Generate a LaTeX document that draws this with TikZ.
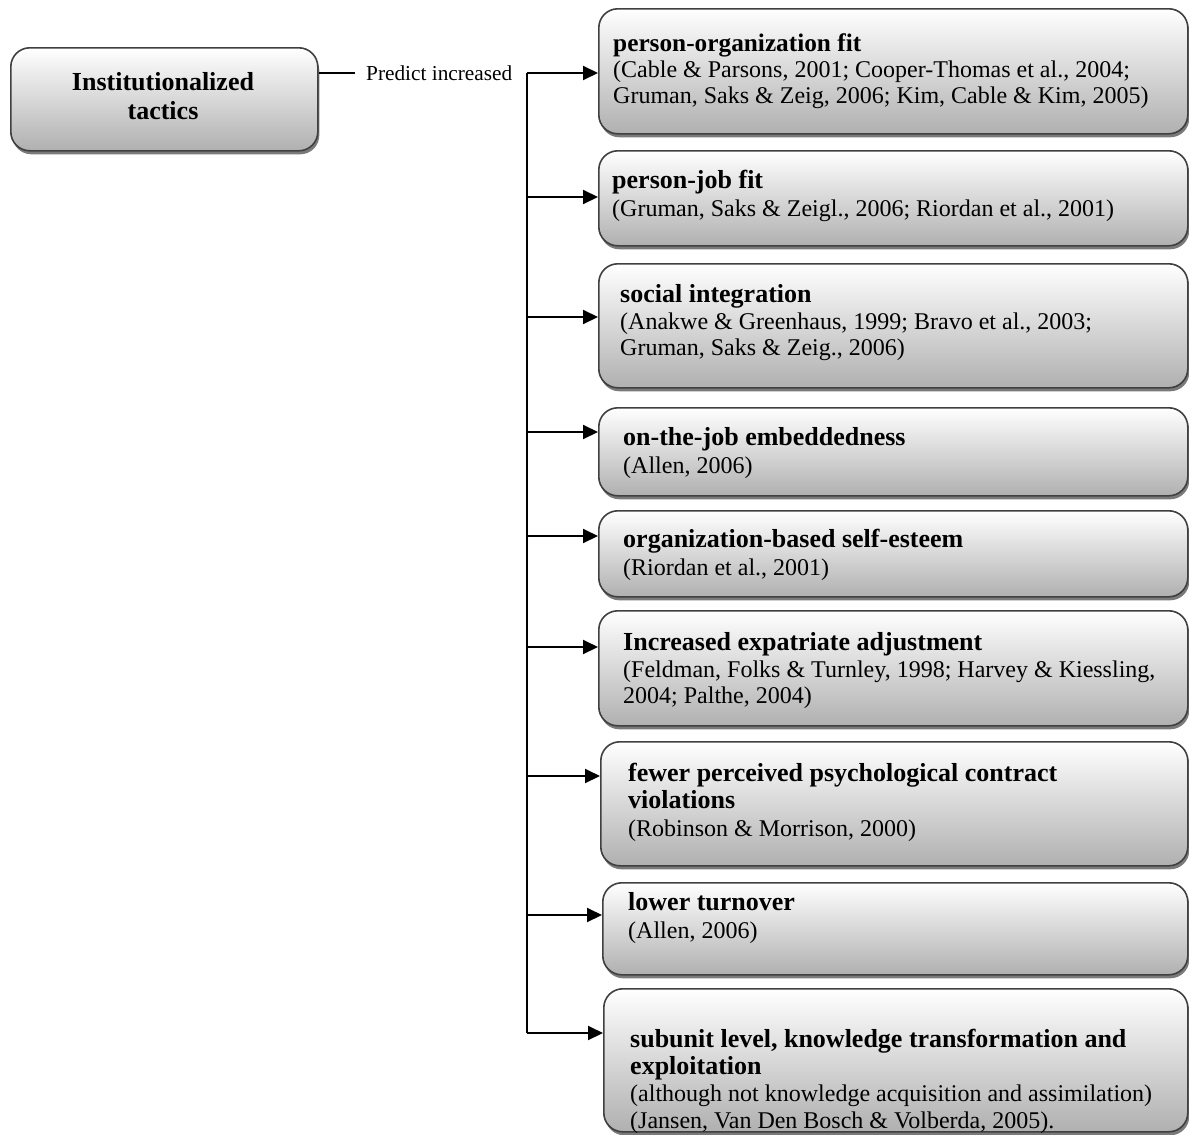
\documentclass[tikz,border=0pt]{standalone}
\usepackage{fontspec}
\setmainfont{Liberation Serif}
\usetikzlibrary{arrows.meta,shadows}

\tikzset{
  card/.style={draw=gray!50!black, line width=1.6pt, rounded corners=19pt,
    top color=white, bottom color=gray!62, anchor=north west,
    inner sep=0pt,
    drop shadow={shadow xshift=1.5pt, shadow yshift=-3.5pt, fill=gray!70!black, opacity=0.8}},
  cardtext/.style={anchor=west, align=left, inner sep=0pt,
    font=\fontsize{24}{27.5}\selectfont},
  link/.style={line width=2pt},
  feed/.style={line width=2pt, -{Triangle[length=15pt,width=14pt]}},
}
% bold heading line of a card
\newcommand{\hd}[1]{{\fontsize{26}{27.5}\selectfont\bfseries #1}}

\begin{document}
\begin{tikzpicture}[x=1pt,y=-1pt]
  \useasboundingbox (0,0) rectangle (1189,1135);

  % source box
  \node[card, minimum width=307pt, minimum height=103pt] (src) at (10,47) {};
  \node[align=center, inner sep=0pt, font=\fontsize{26}{29}\selectfont\bfseries]
    (srct) at (163,96) {Institutionalized\\tactics};

  % outcome boxes
  \node[card, minimum width=589pt, minimum height=125pt] (b1) at (598,8) {};
  \node[card, minimum width=589pt, minimum height=95pt]  (b2) at (598,150) {};
  \node[card, minimum width=589pt, minimum height=124pt] (b3) at (598,263) {};
  \node[card, minimum width=589pt, minimum height=88pt]  (b4) at (598,407) {};
  \node[card, minimum width=589pt, minimum height=86pt]  (b5) at (598,510) {};
  \node[card, minimum width=589pt, minimum height=115pt] (b6) at (598,610) {};
  \node[card, minimum width=587pt, minimum height=124pt] (b7) at (600,741) {};
  \node[card, minimum width=585pt, minimum height=92pt]  (b8) at (602,882) {};
  \node[card, minimum width=584pt, minimum height=143pt] (b9) at (603,988) {};

  % box texts
  \node[cardtext, font=\fontsize{24}{26}\selectfont] (t1) at (613,71)
    {{\fontsize{25.3}{26}\selectfont\bfseries person-organization fit}\\
    (Cable \& Parsons, 2001; Cooper-Thomas et al., 2004;\\
    Gruman, Saks \& Zeig, 2006; Kim, Cable \& Kim, 2005)};
  \node[cardtext] (t2) at (612,196) {\hd{person-job fit}\\
    (Gruman, Saks \& Zeigl., 2006; Riordan et al., 2001)};
  \node[cardtext, font=\fontsize{24}{26.5}\selectfont] (t3) at (620,323) {\hd{social integration}\\
    (Anakwe \& Greenhaus, 1999; Bravo et al., 2003;\\
    Gruman, Saks \& Zeig., 2006)};
  \node[cardtext] (t4) at (623,453) {\hd{on-the-job embeddedness}\\
    (Allen, 2006)};
  \node[cardtext] (t5) at (623,555) {\hd{organization-based self-esteem}\\
    (Riordan et al., 2001)};
  \node[cardtext, font=\fontsize{24}{26.5}\selectfont] (t6) at (623,671) {\hd{Increased expatriate adjustment}\\
    (Feldman, Folks \& Turnley, 1998; Harvey \& Kiessling,\\
    2004; Palthe, 2004)};
  \node[cardtext] (t7) at (628,802) {\hd{fewer perceived psychological contract}\\
    \hd{violations}\\
    (Robinson \& Morrison, 2000)};
  \node[cardtext] (t8) at (628,918) {\hd{lower turnover}\\
    (Allen, 2006)};
  \node[cardtext, font=\fontsize{24}{27}\selectfont] (t9) at (630,1081) {\hd{subunit level, knowledge transformation and}\\
    \hd{exploitation}\\
    (although not knowledge acquisition and assimilation)\\
    (Jansen, Van Den Bosch \& Volberda, 2005).};

  % branch points on the spine
  \coordinate (j1) at (527,73);
  \coordinate (j2) at (527,197);
  \coordinate (j3) at (527,317);
  \coordinate (j4) at (527,432);
  \coordinate (j5) at (527,536);
  \coordinate (j6) at (527,647);
  \coordinate (j7) at (527,776);
  \coordinate (j8) at (527,915);
  \coordinate (j9) at (527,1033);

  % lead line and its label
  \coordinate (lead) at (355,73);
  \draw[link] (src.east |- j1) -- (lead);
  \node[anchor=west, inner sep=0pt, font=\fontsize{21.3}{24}\selectfont]
    (lbl) at (366,73) {Predict increased};

  % spine and arrows
  \draw[link] (j1) -- (j9);
  \foreach \i in {1,...,9}{
    \draw[feed] (j\i) -- (j\i -| b\i.west);
  }
\end{tikzpicture}
\end{document}
